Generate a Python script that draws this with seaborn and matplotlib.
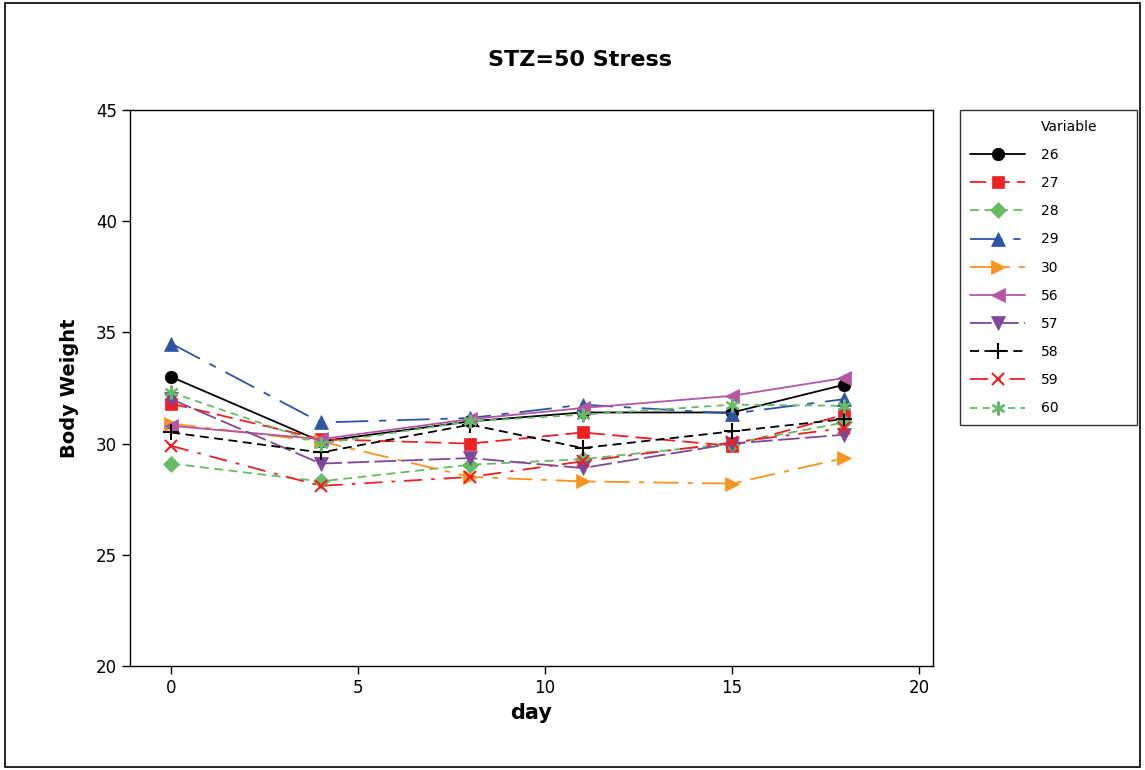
import matplotlib
matplotlib.use("Agg")
import matplotlib.pyplot as plt
from matplotlib.lines import Line2D
import seaborn as sns
import numpy as np
import pandas as pd

days = [0, 4, 8, 11, 15, 18]
s26 = [33.0, 30.1, 31.0, 31.4, 31.4, 32.65]
s27 = [31.8, 30.2, 30.0, 30.5, 29.9, 31.3]
s28 = [29.1, 28.3, 29.05, 29.3, 30.0, 30.95]
s29 = [34.5, 30.95, 31.15, 31.75, 31.35, 32.0]
s30 = [30.9, 30.1, 28.5, 28.3, 28.2, 29.35]
s56 = [30.8, 30.2, 31.1, 31.6, 32.15, 32.95]
s57 = [32.0, 29.1, 29.35, 28.9, 30.0, 30.4]
s58 = [30.5, 29.6, 30.85, 29.8, 30.55, 31.1]
s59 = [29.9, 28.1, 28.5, 29.2, 30.05, 30.7]
s60 = [32.3, 30.0, 31.0, 31.3, 31.75, 31.7]
variables = ["26", "27", "28", "29", "30", "56", "57", "58", "59", "60"]
series = [s26, s27, s28, s29, s30, s56, s57, s58, s59, s60]

colors = ["#000000", "#ED2024", "#66BB66", "#2D55A5", "#F7941D",
          "#B455A5", "#7E479A", "#000000", "#ED2024", "#66BB66"]
markers = ["o", "s", "D", "^", ">", "<", "v", "+", "x", (6, 2, 0)]
styles = ["-", (0, (9, 4)), (0, (5, 3)), (0, (18, 6, 4, 6)), (0, (14, 5, 3, 5)),
          "-", (0, (12, 3)), (0, (5, 3)), (0, (10, 5, 2, 5)), (0, (4, 3))]
msizes = [9, 8, 8, 10, 10, 10, 10, 11, 9, 10]

sns.set_style("white")
plt.rcParams["font.family"] = ["DejaVu Sans"]
plt.rcParams["text.color"] = "black"
plt.rcParams["axes.labelcolor"] = "black"
plt.rcParams["xtick.color"] = "black"
plt.rcParams["ytick.color"] = "black"

fig = plt.figure(figsize=(11.45, 7.7), dpi=100)
ax = fig.add_axes([130 / 1145, 1 - 666 / 770, (933 - 130) / 1145, (666 - 110) / 770])

for name, vals, c, m, ls, ms in zip(variables, series, colors, markers, styles, msizes):
    df = pd.DataFrame({"day": days, "w": vals})
    sns.lineplot(data=df, x="day", y="w", ax=ax, color=c, marker=m, linestyle=ls,
                 markersize=ms, linewidth=1.3, markeredgecolor=c,
                 markeredgewidth=1.5 if m in ("+", "x", (6, 2, 0)) else 0.5,
                 label=name)

ax.set_xlim(-1.1, 20.37)
ax.set_ylim(20, 45)
ax.set_xticks([0, 5, 10, 15, 20])
ax.set_yticks([20, 25, 30, 35, 40, 45])
ax.tick_params(axis="both", which="both", direction="out", length=6, width=1,
               labelsize=12, left=True, bottom=True, top=False, right=False,
               colors="black")
for sp in ax.spines.values():
    sp.set_color("black")
    sp.set_linewidth(1)
ax.set_xlabel("day", fontsize=15, fontweight="bold", color="black")
ax.set_ylabel("Body Weight", fontsize=14, fontweight="bold", labelpad=12, color="black")
fig.text(580 / 1145, 1 - 60 / 770, "STZ=50 Stress", ha="center", va="center",
         fontsize=16, fontweight="bold", color="black")

handles, labels = ax.get_legend_handles_labels()
dummy = Line2D([], [], linestyle="none", marker="none")
leg = ax.legend(handles=[dummy] + handles, labels=["Variable"] + labels,
                loc="upper left",
                bbox_to_anchor=(960 / 1145, 1 - 425 / 770, 177 / 1145, 315 / 770),
                bbox_transform=fig.transFigure, mode="expand", frameon=True, fancybox=False,
                edgecolor="black", fontsize=10, handlelength=4.0,
                labelspacing=1.02, borderpad=0.7, handletextpad=1.1, borderaxespad=0)
leg.get_frame().set_linewidth(1)

# outer border
fig.patches.append(plt.Rectangle((0.004, 0.004), 0.992, 0.992, transform=fig.transFigure,
                                 fill=False, edgecolor="black", linewidth=1.2))

fig.savefig("out.png", dpi=100)
